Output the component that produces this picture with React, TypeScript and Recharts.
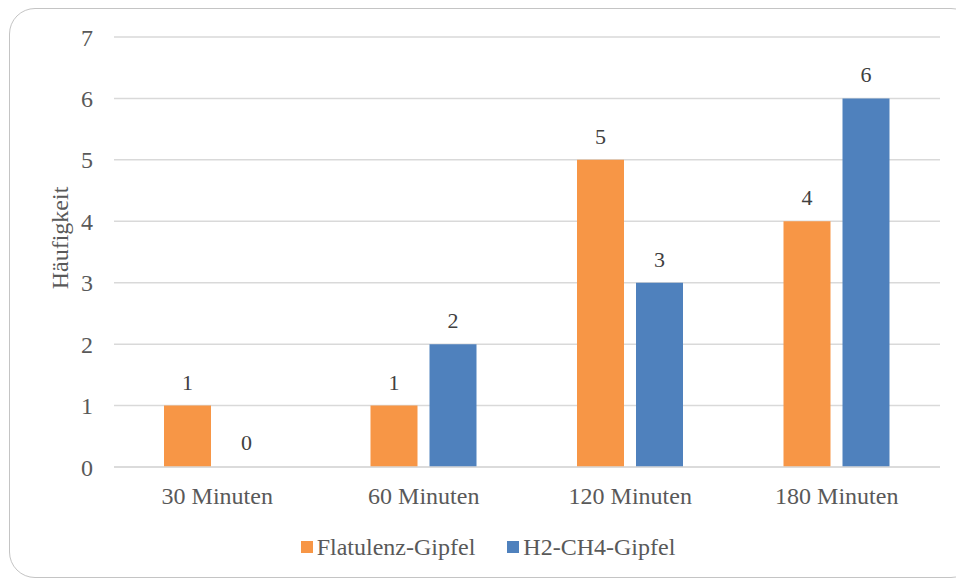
import React from 'react';
import { BarChart, Bar, XAxis, YAxis, CartesianGrid, Legend, LabelList, Rectangle } from 'recharts';

const categories = ['30 Minuten', '60 Minuten', '120 Minuten', '180 Minuten'];
const flatulenz = [1, 1, 5, 4];
const h2ch4 = [0, 2, 3, 6];
const yTicks = [0, 1, 2, 3, 4, 5, 6, 7];

const ORANGE = '#F79646';
const BLUE = '#4F81BD';
const TEXT = '#595959';
const FONT = 'Times New Roman';

const data = categories.map((name, i) => ({ name, flat: flatulenz[i], h2: h2ch4[i] }));

const seriesInfo = [
  { key: 'flat', label: 'Flatulenz-Gipfel', color: ORANGE },
  { key: 'h2', label: 'H2-CH4-Gipfel', color: BLUE },
];

// zero values keep a 1px stub so the label still gets drawn, but the stub itself is hidden
const BarShape = (props: any) => (props.height < 2 ? <g /> : <Rectangle {...props} />);

const LegendBox = () => (
  <div style={{ display: 'flex', justifyContent: 'center', alignItems: 'center', height: 30, fontFamily: FONT, fontSize: 24, color: TEXT, paddingLeft: 36 }}>
    {seriesInfo.map((s, i) => (
      <div key={s.key} style={{ display: 'flex', alignItems: 'center', marginLeft: i === 0 ? 0 : 32 }}>
        <span style={{ display: 'inline-block', width: 12, height: 12, background: s.color, marginRight: 4 }} />
        <span>{s.label}</span>
      </div>
    ))}
  </div>
);

const YLabel = (props: any) => {
  const vb = props.viewBox || {};
  const cy = vb.y + vb.height / 2 - 14;
  return (
    <text x={60} y={cy} transform={`rotate(-90, 60, ${cy})`} textAnchor="middle" dominantBaseline="central"
      fontFamily={FONT} fontSize={24} fill={TEXT}>
      Häufigkeit
    </text>
  );
};

export default function App() {
  return (
    <div style={{ position: 'absolute', left: 0, top: 0, width: 956, height: 579, overflow: 'hidden', background: '#fff', fontFamily: FONT }}>
      <div style={{ position: 'absolute', left: 9, top: 8, width: 966, height: 568, border: '1.5px solid #c4c4c4', borderRadius: 26 }} />
      <div style={{ position: 'absolute', left: 0, top: 0 }}>
        <BarChart width={956} height={579} data={data} margin={{ top: 37, right: 16, bottom: 17, left: 0 }} barSize={47} barGap={12}>
          <CartesianGrid vertical={false} stroke="#d9d9d9" strokeWidth={1.5} />
          <XAxis dataKey="name" height={65} axisLine={{ stroke: '#d9d9d9', strokeWidth: 1.5 }} tickLine={false} tickMargin={14}
            tick={{ fontFamily: FONT, fontSize: 24, fill: TEXT }} />
          <YAxis width={114} domain={[0, 7]} ticks={yTicks} axisLine={false} tickLine={false} tickMargin={15}
            tick={{ fontFamily: FONT, fontSize: 24, fill: TEXT }} label={<YLabel />} />
          <Legend verticalAlign="bottom" content={<LegendBox />} />
          {seriesInfo.map((s) => (
            <Bar key={s.key} dataKey={s.key} name={s.label} fill={s.color} isAnimationActive={false}
              minPointSize={1} shape={<BarShape />}>
              <LabelList dataKey={s.key} position="top" offset={16}
                fontFamily={FONT} fontSize={22} fill="#404040" />
            </Bar>
          ))}
        </BarChart>
      </div>
    </div>
  );
}
